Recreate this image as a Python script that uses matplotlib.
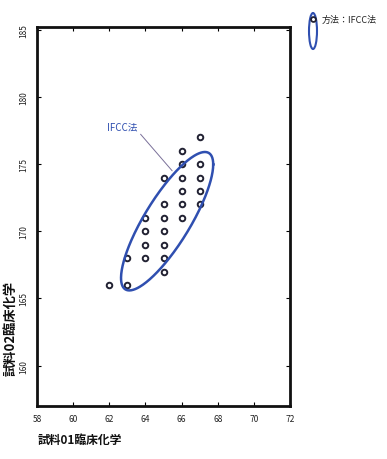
import numpy as np
import matplotlib
matplotlib.use("Agg")
import matplotlib.pyplot as plt
from matplotlib.patches import Ellipse

plt.rcParams['font.family'] = ['Noto Sans CJK JP', 'DejaVu Sans']

# data
x_vals = [62, 63, 63, 64, 64, 64, 64,
          65, 65, 65, 65, 65, 65, 65,
          66, 66, 66, 66, 66, 66,
          67, 67, 67, 67, 67]
y_vals = [166, 166, 168, 168, 169, 170, 171,
          167, 168, 169, 170, 171, 172, 174,
          171, 172, 173, 174, 175, 176,
          172, 173, 174, 175, 177]

x_ticks = [58, 60, 62, 64, 66, 68, 70, 72]
y_ticks = [160, 165, 170, 175, 180, 185]

# ellipse (center, half extents, correlation)
ell_cx, ell_cy = 65.2, 170.75
ell_hx, ell_hy = 2.55, 5.15
ell_r = 0.82

blue = '#2f4fb0'

fig = plt.figure(figsize=(3.87, 4.6), dpi=100)
ax = fig.add_axes([37/387, 1-407/460, (290-37)/387, (407-28)/460])

ax.plot(x_vals, y_vals, 'o', ms=4, mfc='none', mec='#222233', mew=1.4)

t = np.linspace(0, 2*np.pi, 300)
th = np.arccos(ell_r)
ex = ell_cx + ell_hx*np.cos(t)
ey = ell_cy + ell_hy*np.cos(t - th)
ax.plot(ex, ey, color=blue, lw=1.8)

ax.annotate('IFCC法', xy=(65.48, 174.5), xytext=(61.9, 177.8),
            color=blue, fontsize=7, va='center', ha='left',
            arrowprops=dict(arrowstyle='-', color='#7a7099', lw=0.7,
                            shrinkA=0, shrinkB=0, relpos=(0.95, 0.2)))

ax.set_xlim(58, 72)
ax.set_ylim(157, 185.2)
ax.set_xticks(x_ticks)
ax.set_yticks(y_ticks)
ax.set_xticklabels([str(v) for v in x_ticks], fontsize=6, color='#222')
ax.set_yticklabels([str(v) for v in y_ticks], fontsize=6, color='#222',
                   rotation=90, va='center')
ax.tick_params(direction='in', length=3, width=0.8, top=True, right=True, pad=6)
for s in ax.spines.values():
    s.set_linewidth(2)
    s.set_color('#111')

fig.text(38/387, 1-440/460, '試料01臨床化学', fontsize=8.5, fontweight='bold',
         va='center', ha='left', color='#111')
fig.text(11/387, 1-328/460, '試料02臨床化学', fontsize=9.5, fontweight='bold',
         va='center', ha='center', rotation=90, color='#111')

# legend outside top right
leg = Ellipse((313/387, 1-32/460), 8/387, 36/460, transform=fig.transFigure,
              fill=False, ec=blue, lw=1.5)
fig.add_artist(leg)
fig.lines.append(plt.Line2D([313/387], [1-20/460], marker='o', ms=3.5, mfc='none',
                            mec='#222233', mew=1.3, transform=fig.transFigure))
fig.text(322/387, 1-20/460, '方法：IFCC法', fontsize=6.5, va='center', ha='left',
         color='#222')

fig.savefig('out.png', dpi=100)
